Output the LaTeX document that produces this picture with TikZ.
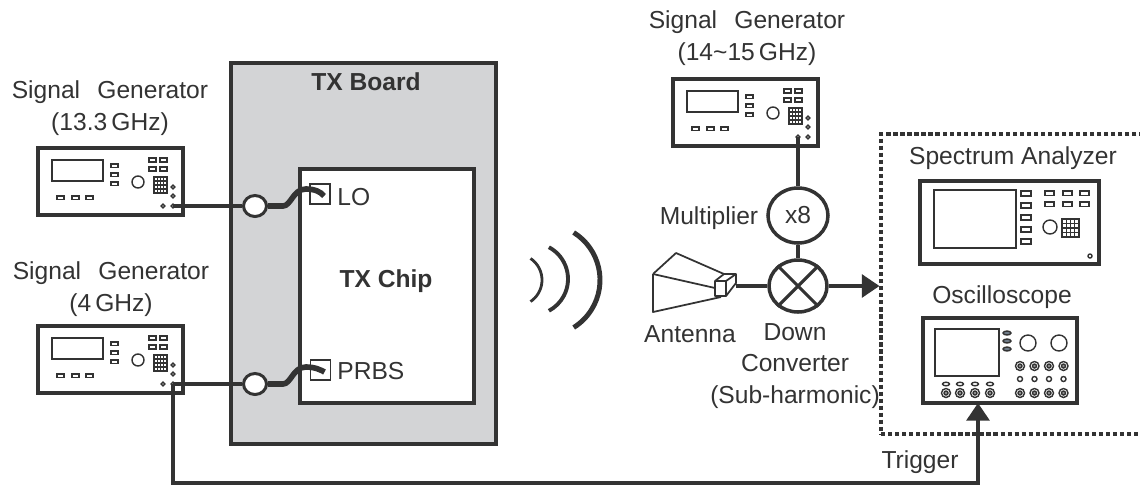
\documentclass[tikz,border=0pt]{standalone}
\usepackage{fontspec}
\setmainfont{Liberation Sans}
\usetikzlibrary{arrows.meta,calc,shapes.geometric}

\definecolor{ink}{HTML}{333333}
\definecolor{boardgray}{HTML}{D3D4D6}
\definecolor{keyblue}{HTML}{6F7C89}

\tikzset{
  lbl/.style={font=\fontsize{14}{18}\selectfont, text=ink, align=center, inner sep=0pt},
  instr/.style={draw=ink, line width=2.1pt},
  fine/.style={draw=ink, line width=0.8pt},
  wire/.style={draw=ink, line width=1.8pt},
  cable/.style={draw=ink, line width=3.2pt},
  sig/.style={draw=ink, line width=1.9pt, -{Triangle[length=10pt,width=13pt]}},
  jack/.style={ellipse, draw=ink, fill=white, line width=1.7pt, inner sep=0pt,
    minimum width=0.46cm, minimum height=0.42cm},
  pad/.style={draw=ink, fill=white, line width=0.8pt, inner sep=0pt, minimum size=0.4cm},
  mixer/.style={ellipse, draw=ink, line width=2pt, inner sep=0pt, text=ink,
    font=\fontsize{14}{18}\selectfont},
  % front panels, origin at the top left corner of the case
  siggen/.pic={
    \draw[instr] (0,0) rectangle (145,67);
    \draw[fine] (14,12) rectangle (65,33);
    \foreach \y in {16,25,34} \draw[fine] (73,\y) rectangle (80,\y+3.5);
    \foreach \x in {111,122} \foreach \y in {10,19} \draw[fine] (\x,\y) rectangle (\x+7,\y+4);
    \foreach \x in {19,34,48} \draw[fine] (\x,48) rectangle (\x+7,51.5);
    \draw[fine] (100,34) circle (6);
    \draw[fine] (116,29) rectangle (129,45);
    \foreach \x in {119.25,122.5,125.75} \draw[fine] (\x,29) -- (\x,45);
    \foreach \y in {33,37,41} \draw[fine] (116,\y) -- (129,\y);
    \foreach \x/\y in {135/39,135/48,125/58,135/58} \draw[fine] (\x,\y) circle (1.8);
    \coordinate (-out) at (135,58);
    \coordinate (-aux) at (125,58);
  },
  specan/.pic={
    \draw[instr] (0,0) rectangle (179,83);
    \draw[fine] (14,9) rectangle (96,67);
    \foreach \y in {10,22,34,46,58} \draw[fine] (101,\y) rectangle (111,\y+5);
    \foreach \x in {125,143,160} \foreach \y in {10,21} \draw[fine] (\x,\y) rectangle (\x+9,\y+4.5);
    \draw[fine] (130,46) circle (7);
    \draw[fine] (142,38) rectangle (159,56);
    \foreach \x in {146.25,150.5,154.75} \draw[fine] (\x,38) -- (\x,56);
    \foreach \y in {42.5,47,51.5} \draw[fine] (142,\y) -- (159,\y);
    \draw[fine] (170,75) circle (2);
  },
  oscope/.pic={
    \draw[instr] (0,0) rectangle (154,85);
    \draw[fine] (12,11) rectangle (76,58);
    \foreach \y in {15,23,31} \draw[fine, fill=keyblue] (84,\y) ellipse [x radius=4, y radius=2];
    \foreach \x in {105,136} \draw[fine] (\x,25) circle (8);
    \foreach \x in {97,111.5,126,140.5} {
      \draw[fine] (\x,48) circle (4.5);
      \draw[fine, fill=ink!55] (\x,48) circle (2);
      \draw[fine] (\x,61) circle (2.5);
      \draw[fine] (\x,75) circle (4.5);
      \draw[fine, fill=ink!55] (\x,75) circle (2);
    }
    \foreach \x in {23,37,52,67} {
      \draw[fine] (\x,66) ellipse [x radius=3.5, y radius=1.8];
      \draw[fine] (\x,75) circle (4.5);
      \draw[fine, fill=ink!55] (\x,75) circle (2);
    }
    \coordinate (-trig) at (55,85);
  }
}

\begin{document}
\begin{tikzpicture}[x=0.02cm, y=-0.02cm]
  \useasboundingbox (0,0) rectangle (1140,485);

  % --- TX board and chip ---
  \node[draw=ink, fill=boardgray, line width=1.8pt, minimum width=5.3cm, minimum height=7.62cm] (board) at (363.5,253.5) {};
  \node[draw=ink, fill=white, line width=2pt, minimum width=3.48cm, minimum height=4.68cm] (chip) at (387,286) {};
  \node[lbl, font=\fontsize{14}{18}\selectfont\bfseries] (boardname) at (366,82) {TX Board};
  \node[lbl, font=\fontsize{14}{18}\selectfont\bfseries] (chipname) at (386,281) {TX Chip};
  \node[pad] (lo-port) at (320,194) {};
  \node[pad] (prbs-port) at (320.5,370) {};
  \node[lbl, anchor=west] (lo) at (337,197) {LO};
  \node[lbl, anchor=west] (prbs) at (337,371) {PRBS};

  % --- Source instruments ---
  \pic (sg1) at (38,148) {siggen};
  \pic (sg2) at (38,326) {siggen};
  \pic (sg3) at (673,79) {siggen};
  \node[lbl] (sg1-name) at (110,108) {Signal\hspace{0.7em}Generator\\(13.3\,GHz)};
  \node[lbl] (sg2-name) at (111,289) {Signal\hspace{0.7em}Generator\\(4\,GHz)};
  \node[lbl] (sg3-name) at (747,38) {Signal\hspace{0.7em}Generator\\(14\textasciitilde15\,GHz)};

  % --- Cables into the board ---
  \node[jack] (lo-jack) at (255,206) {};
  \node[jack] (prbs-jack) at (255,384) {};
  \draw[wire] (sg1-out) -- (lo-jack.west);
  \draw[wire] (sg2-out) -- (prbs-jack.west);
  \draw[cable] (lo-jack.east) -- (283,206) .. controls (291,206) and (293,189) .. (306,189)
    .. controls (315,189) and (321,192) .. ($(lo-port.center)+(4,2)$);
  \draw[cable] (prbs-jack.east) -- (283,384) .. controls (291,384) and (293,367) .. (306,367)
    .. controls (315,367) and (321,370) .. ($(prbs-port.center)+(4,2)$);

  % --- Radiated signal ---
  \draw[ink, line width=1.6pt] (516,280) ++(-56:26) arc[start angle=-56, end angle=56, radius=26];
  \draw[ink, line width=2.2pt] (532,279) ++(-62:36) arc[start angle=-62, end angle=62, radius=36];
  \draw[ink, line width=2.8pt] (544,280) ++(-58:56) arc[start angle=-58, end angle=58, radius=56];

  % --- Receiver front end ---
  \draw[ink, line width=1pt, line join=round] (653,274) -- (676,253) -- (724,274);
  \draw[ink, line width=1pt] (653,274) -- (715,288);
  \draw[ink, line width=1pt, line join=round] (653,274) -- (653,312) -- (721,297);
  \draw[ink, line width=1pt, line join=round] (715,281) -- (724,274) -- (736,274) -- (736,283)
    -- (726,296) -- (715,296) -- cycle;
  \draw[ink, line width=1pt] (715,281) -- (726,281) -- (736,274) (726,281) -- (726,296);
  \coordinate (ant-out) at (736,286);
  \node[mixer, minimum width=1.2cm, minimum height=1.1cm] (mult) at (798,215.5) {x8};
  \node[mixer, minimum width=1.16cm, minimum height=1.04cm] (mix) at (798,286) {};
  \draw[wire] (mix.45) -- (mix.225);
  \draw[wire] (mix.135) -- (mix.-45);
  \draw[wire] (sg3-aux) -- (mult.north);
  \draw[wire] (mult.south) -- (mix.north);
  \draw[wire] (ant-out) -- (mix.west);
  \node[lbl] (mult-name) at (709,218) {Multiplier};
  \node[lbl] (ant-name) at (690,334) {Antenna};
  \node[lbl, font=\fontsize{14}{17.9}\selectfont] (mix-name) at (795,366) {Down\\Converter\\(Sub-harmonic)};

  % --- Measurement instruments ---
  \node[draw=ink, line width=1.8pt, dash pattern=on 2.4pt off 1.6pt, minimum width=5.6cm, minimum height=6cm] (rx) at (1021,284) {};
  \pic (sa) at (920,181) {specan};
  \pic (osc) at (923,318) {oscope};
  \node[lbl] (sa-name) at (1013,158) {Spectrum Analyzer};
  \node[lbl] (osc-name) at (1002,297) {Oscilloscope};
  \draw[sig] (mix.east) -- (mix.east -| rx.west);

  % --- Trigger line ---
  \draw[sig] (sg2-out) -- ++(0,99) -| (osc-trig);
  \node[lbl] (trig-name) at (920,462) {Trigger};
\end{tikzpicture}
\end{document}
